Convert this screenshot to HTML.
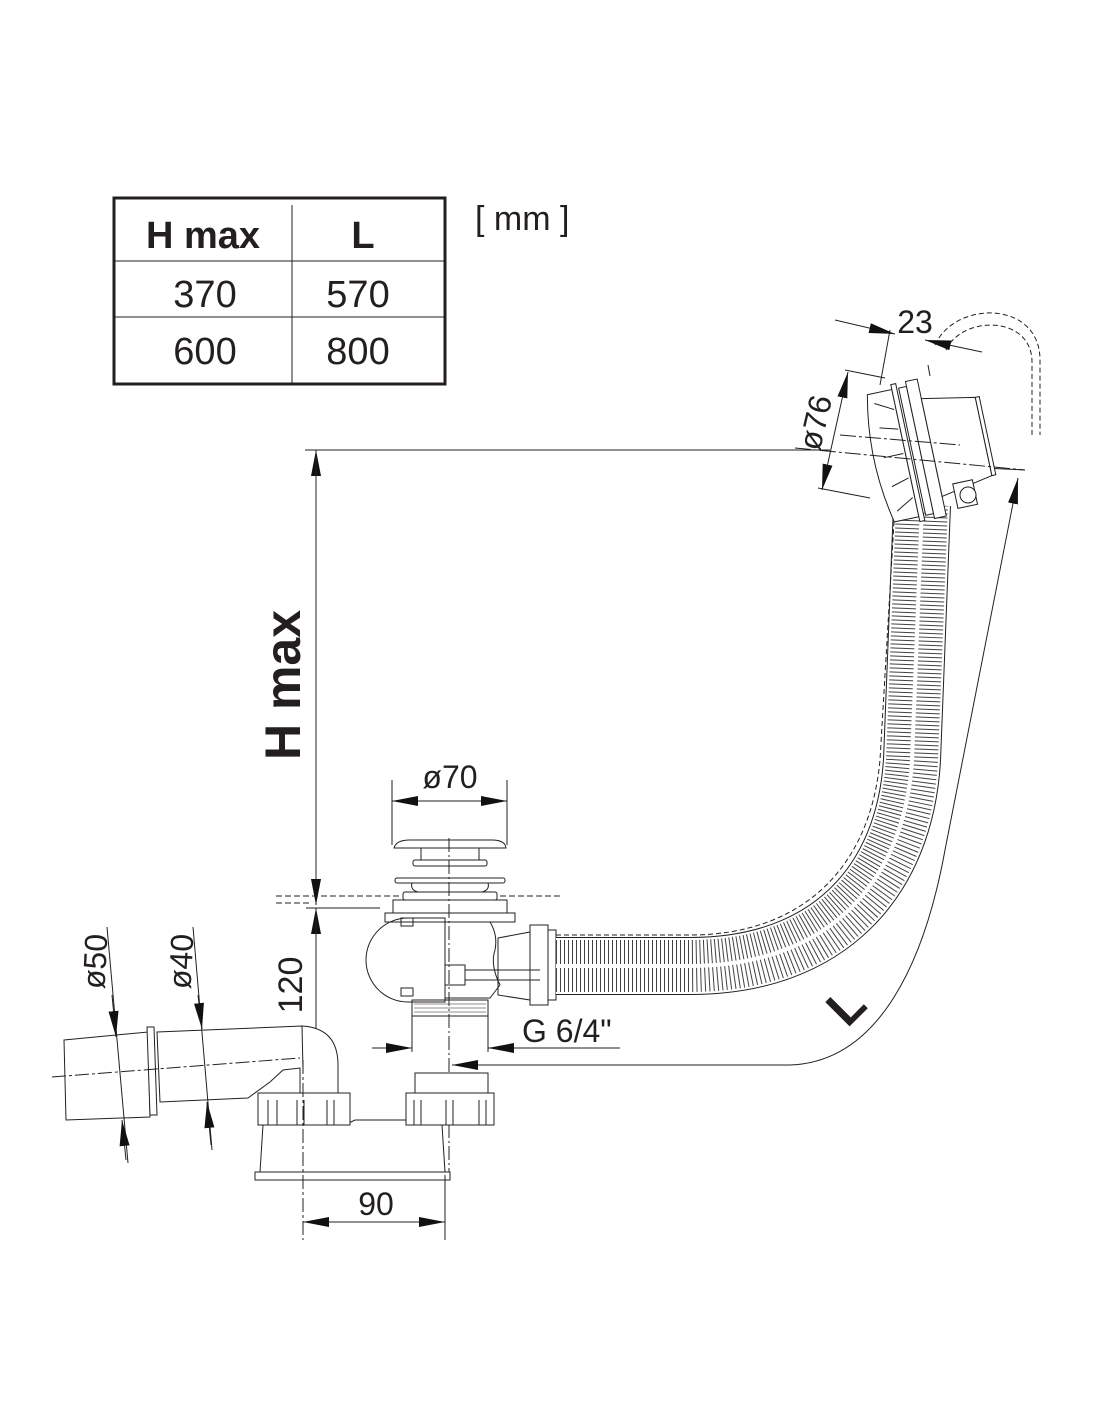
<!DOCTYPE html>
<html><head><style>
html,body{margin:0;padding:0;background:#fff;}
svg{display:block;}
text{font-family:"Liberation Sans",sans-serif;fill:#231f20;}
</style></head><body>
<svg width="1100" height="1422" viewBox="0 0 1100 1422" xmlns="http://www.w3.org/2000/svg">
<defs>
<marker id="a" viewBox="0 0 26 10" refX="26" refY="5" markerWidth="26" markerHeight="10" markerUnits="userSpaceOnUse" orient="auto"><path d="M0,0 L26,5 L0,10z" fill="#111"/></marker>
</defs>
<g fill="none" stroke="#231f20">
<rect x="114" y="198" width="331" height="186" stroke-width="3"/>
<line x1="114" y1="261" x2="445" y2="261" stroke-width="1"/>
<line x1="114" y1="317" x2="445" y2="317" stroke-width="1"/>
<line x1="292" y1="205" x2="292" y2="384" stroke-width="1"/>
</g>
<text x="203" y="248" font-size="38" font-weight="bold" text-anchor="middle">H max</text>
<text x="363" y="248" font-size="38" font-weight="bold" text-anchor="middle">L</text>
<text x="205" y="307" font-size="38" text-anchor="middle">370</text>
<text x="358" y="307" font-size="38" text-anchor="middle">570</text>
<text x="205" y="364" font-size="38" text-anchor="middle">600</text>
<text x="358" y="364" font-size="38" text-anchor="middle">800</text>
<text x="475" y="230" font-size="34">[ mm ]</text>

<g fill="none" stroke="#231f20" stroke-width="1">
<line x1="305" y1="450" x2="830" y2="450"/>
<line x1="316" y1="905" x2="316" y2="450" marker-end="url(#a)"/>
<line x1="316" y1="450" x2="316" y2="905" marker-end="url(#a)"/>
<line x1="316" y1="1180" x2="316" y2="908" marker-end="url(#a)"/>
<line x1="316" y1="908" x2="316" y2="1180" marker-end="url(#a)"/>
<path d="M276,896 L400,896 M276,903 L310,903 M500,896 L560,896" stroke-dasharray="6 3"/>
<line x1="306" y1="908" x2="380" y2="908"/>
<line x1="392" y1="780" x2="392" y2="845"/><line x1="507" y1="780" x2="507" y2="845"/>
<line x1="450" y1="801" x2="392" y2="801" marker-end="url(#a)"/>
<line x1="450" y1="801" x2="507" y2="801" marker-end="url(#a)"/>
<path d="M394,848 Q396,840 410,840 L492,840 Q505,840 506,848 Z"/>
<rect x="421" y="848" width="58" height="12"/>
<rect x="413" y="860" width="74" height="6" rx="2"/>
<rect x="395" y="878" width="110" height="5" rx="2"/>
<path d="M412,883 Q410,890 418,892 L482,892 Q490,890 488,883"/>
<rect x="403" y="892" width="94" height="8" rx="2"/>
<rect x="393" y="900" width="114" height="13"/>
<rect x="385" y="913" width="130" height="9"/>
<path d="M408,918 A42,42 0 0 0 408,1002 L445,1002 L445,918 Z"/>
<rect x="401" y="918" width="12" height="8"/><rect x="401" y="988" width="12" height="8"/>
<path d="M445,922 L490,922 Q498,935 495,950 Q490,965 500,985 L490,998 L445,998"/>
<rect x="445" y="965" width="20" height="20"/>
<line x1="465" y1="970" x2="540" y2="970"/><line x1="465" y1="980" x2="540" y2="980"/>
<rect x="412" y="1000" width="76" height="16"/>
<path d="M414,1004 H486 M414,1008 H486 M414,1012 H486" stroke-width="0.6"/>
<line x1="449" y1="838" x2="449" y2="1175" stroke-dasharray="14 3 2 3"/>
<line x1="412" y1="1016" x2="412" y2="1052"/><line x1="488" y1="1016" x2="488" y2="1052"/>
<line x1="372" y1="1048" x2="412" y2="1048" marker-end="url(#a)"/>
<line x1="620" y1="1048" x2="488" y2="1048" marker-end="url(#a)"/>
<path d="M498,938 L530,932 L530,1000 L498,995 Z"/>
<rect x="530" y="925" width="18" height="80"/>
<rect x="548" y="930" width="8" height="70"/>
</g>
<text x="450" y="788" font-size="32" text-anchor="middle">ø70</text>
<text x="522" y="1042" font-size="32">G 6/4"</text>

<g fill="none">
<path d="M556,966 L690,966 C830,966 905,880 912,760 L922,505" stroke="#231f20" stroke-width="58"/>
<path d="M556,966 L690,966 C830,966 905,880 912,760 L922,505" stroke="#fff" stroke-width="56"/>
<path d="M556,966 L690,966 C830,966 905,880 912,760 L922,505" stroke="#231f20" stroke-width="52" stroke-dasharray="1 3" stroke-opacity="0.85"/>
<path d="M556,966 L690,966 C830,966 905,880 912,760 L922,505" stroke="#fff" stroke-width="4"/>
<path d="M556,935 L690,935 C800,935 870,870 880,760 L895,505" stroke="#231f20" stroke-dasharray="5 3"/>
</g>
<g fill="none" stroke="#231f20" stroke-width="1">
<path d="M790,1065 C880,1062 925,960 945,850 L1018,478" marker-end="url(#a)"/>
<line x1="790" y1="1065" x2="452" y2="1065" marker-end="url(#a)"/>
<line x1="985" y1="468" x2="1025" y2="470"/>
</g>
<text transform="translate(858,1018) rotate(-45)" font-size="50" font-weight="bold" text-anchor="middle">L</text>

<g fill="#fff" stroke="#231f20" stroke-width="1">
<g transform="rotate(-12 920 450)">
<path d="M880,385 L905,385 L905,515 L880,515 Q866,450 880,385 Z"/>
<path d="M885,395 L903,405 M885,420 L903,425 M883,450 L903,450 M885,480 L903,475 M885,505 L903,495" fill="none"/>
<rect x="905" y="380" width="5" height="140"/>
<rect x="912" y="385" width="8" height="130"/>
<rect x="920" y="380" width="12" height="140"/>
<path d="M932,400 L985,410 L985,490 L932,500 Z"/>
<rect x="985" y="410" width="4" height="80"/>
<rect x="945" y="490" width="20" height="25"/>
</g>
<circle cx="968" cy="495" r="8"/>
</g>
<g fill="none" stroke="#231f20" stroke-width="1">
<path d="M935,345 C955,300 1040,300 1040,360 L1040,435 M946,350 C962,315 1032,315 1032,362 L1032,435" stroke-dasharray="5 3"/>
<line x1="880" y1="385" x2="890" y2="330"/><line x1="930" y1="376" x2="928" y2="365"/>
<line x1="835" y1="320" x2="895" y2="334" marker-end="url(#a)"/>
<line x1="982" y1="352" x2="925" y2="340" marker-end="url(#a)"/>
<line x1="845" y1="370" x2="885" y2="378"/><line x1="818" y1="488" x2="870" y2="498"/>
<line x1="833" y1="440" x2="848" y2="372" marker-end="url(#a)"/>
<line x1="833" y1="440" x2="822" y2="490" marker-end="url(#a)"/>
<line x1="795" y1="448" x2="1025" y2="470" stroke-dasharray="16 3 3 3"/>
<line x1="840" y1="435" x2="960" y2="445" stroke-dasharray="16 3 3 3"/>
</g>
<text x="915" y="333" font-size="32" text-anchor="middle">23</text>
<text transform="translate(826,425) rotate(-77)" font-size="32" text-anchor="middle">ø76</text>

<g fill="#fff" stroke="#231f20" stroke-width="1">
<path d="M64,1040 L148,1032 L150,1117 L66,1120 Z"/>
<path d="M147,1027 L154,1027 L157,1115 L150,1115 Z"/>
<path d="M157,1032 L302,1026 Q338,1028 338,1065 L338,1095 L300,1095 L300,1068 L283,1070 L270,1082 L248,1098 L160,1102 Z"/>
<path d="M302,1026 L303,1070" fill="none"/>
<path d="M263,1125 L260,1172 L445,1172 L442,1125 L405,1120 L355,1120 L345,1125 Z"/>
<rect x="255" y="1172" width="195" height="8"/>
<rect x="258" y="1093" width="92" height="32"/>
<path d="M268,1125 V1100 M277,1125 V1100 M297,1125 V1100 M304,1125 V1100 M327,1125 V1100 M334,1125 V1100" fill="none"/>
<rect x="415" y="1073" width="73" height="20"/>
<rect x="406" y="1093" width="88" height="32"/>
<path d="M414,1125 V1100 M421,1125 V1100 M446,1125 V1100 M453,1125 V1100 M479,1125 V1100 M486,1125 V1100" fill="none"/>
</g>
<g fill="none" stroke="#231f20" stroke-width="1">
<line x1="52" y1="1077" x2="300" y2="1058" stroke-dasharray="14 3 3 3"/>
<line x1="303" y1="1060" x2="303" y2="1240" stroke-dasharray="14 3 3 3"/>
<line x1="445" y1="1175" x2="445" y2="1240"/>
<line x1="375" y1="1222" x2="303" y2="1222" marker-end="url(#a)"/>
<line x1="375" y1="1222" x2="445" y2="1222" marker-end="url(#a)"/>
<line x1="107" y1="927" x2="128" y2="1163"/>
<line x1="112" y1="995" x2="116" y2="1037" marker-end="url(#a)"/>
<line x1="126" y1="1160" x2="122" y2="1120" marker-end="url(#a)"/>
<line x1="193" y1="927" x2="212" y2="1150"/>
<line x1="198" y1="995" x2="202" y2="1029" marker-end="url(#a)"/>
<line x1="211" y1="1145" x2="207" y2="1102" marker-end="url(#a)"/>
</g>
<text x="376" y="1215" font-size="32" text-anchor="middle">90</text>
<text transform="translate(106,962) rotate(-87)" font-size="32" text-anchor="middle">ø50</text>
<text transform="translate(192,962) rotate(-87)" font-size="32" text-anchor="middle">ø40</text>
<text transform="translate(302,985) rotate(-90)" font-size="34" text-anchor="middle">120</text>
<text transform="translate(300,685) rotate(-90)" font-size="50" font-weight="bold" text-anchor="middle">H max</text>
</svg>
</body></html>
